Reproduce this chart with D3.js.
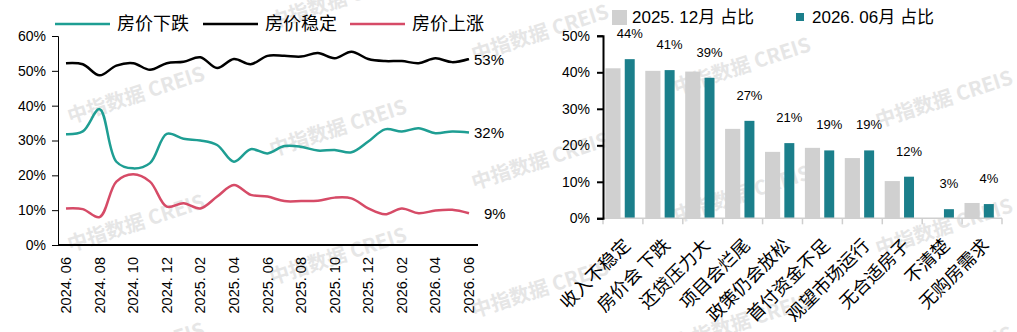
<!DOCTYPE html>
<html>
<head>
<meta charset="utf-8">
<script src="https://cdn.jsdelivr.net/npm/d3@7"></script>
<style>
  body { margin: 0; background: #fff; }
  text { font-family: "Liberation Sans", Arial, "Noto Sans CJK SC", sans-serif; }
</style>
</head>
<body>
<div id="chart"></div>
<script>
// ---- data: left chart (monthly share of expectations) ----
const months = ["2024. 06","2024. 07","2024. 08","2024. 09","2024. 10","2024. 11","2024. 12",
  "2025. 01","2025. 02","2025. 03","2025. 04","2025. 05","2025. 06","2025. 07","2025. 08",
  "2025. 09","2025. 10","2025. 11","2025. 12","2026. 01","2026. 02","2026. 03","2026. 04",
  "2026. 05","2026. 06"];
const monthTicks = ["2024. 06","2024. 08","2024. 10","2024. 12","2025. 02","2025. 04","2025. 06",
  "2025. 08","2025. 10","2025. 12","2026. 02","2026. 04","2026. 06"];
const fallValues = [31.8,32.6,39.0,23.9,22.0,23.5,31.9,30.5,30.0,28.7,23.9,27.5,26.3,28.4,28.2,
  27.1,27.3,26.6,29.7,33.2,32.6,33.5,32.1,32.6,32.3];
const stableValues = [52.2,51.9,48.7,51.5,52.2,50.3,52.2,52.6,53.9,50.8,53.4,51.9,54.3,54.3,54.1,
  55.1,53.6,55.5,53.4,52.8,52.8,52.2,53.6,52.5,53.4];
const riseValues = [10.5,10.3,8.0,18.2,20.3,18.2,11.0,12.0,10.5,13.9,17.2,14.4,13.9,12.6,12.6,
  12.7,13.6,13.4,10.5,8.8,10.5,9.1,9.9,10.1,9.1];
const lineNames = ["房价下跌","房价稳定","房价上涨"];
const lineEndLabels = ["32%","53%","9%"];
const leftTicks = [0,10,20,30,40,50,60];

// ---- data: right chart (reasons) ----
const reasons = ["收入不稳定","房价会 下跌","还贷压力大","项目会烂尾","政策仍会放松","首付资金不足",
  "观望市场运行","无合适房子","不清楚","无购房需求"];
const dec2025 = [41.1,40.4,40.2,24.5,18.2,19.3,16.5,10.2,0,4.2];
const jun2026 = [43.6,40.6,38.5,26.7,20.6,18.6,18.6,11.4,2.5,3.9];
const jun2026Labels = ["44%","41%","39%","27%","21%","19%","19%","12%","3%","4%"];
const barNames = ["2025. 12月 占比","2026. 06月 占比"];
const rightTicks = [0,10,20,30,40,50];

const W = 1017, H = 332;
const svg = d3.select("#chart").append("svg")
  .attr("width", W).attr("height", H)
  .style("display", "block");
svg.append("rect").attr("width", W).attr("height", H).attr("fill", "#fff");

// watermark grid "中指数据 CREIS"
const wm = svg.append("g");
for (let k = 0; k < 5; k++) {
  for (let j = -1; j < 4; j++) {
    const cx = 136 + 202 * k, cy = -33 + 33 * k + 128 * j;
    if (cy < -30 || cy > 360) continue;
    wm.append("text")
      .attr("transform", `translate(${cx},${cy}) rotate(-18)`)
      .attr("text-anchor", "middle").attr("dy", "0.35em")
      .style("font-size", "20px").style("font-weight", "bold")
      .style("font-family", "'Noto Sans CJK SC', sans-serif")
      .attr("fill", "#e6e6e6")
      .text("中指数据 CREIS");
  }
}

// ================= left chart =================
const colFall = "#1e9e93", colStable = "#000000", colRise = "#d64b67";
const x = d3.scalePoint().domain(months).range([66, 469]);
const y = d3.scaleLinear().domain([0, 60]).range([245, 36]);

const gL = svg.append("g");
gL.append("g")
  .attr("transform", "translate(58,0)")
  .call(d3.axisLeft(y).tickValues(leftTicks).tickSize(6).tickFormat(d => d + "%"))
  .call(g => g.selectAll("text").style("font-size", "14px").attr("fill", "#000").attr("x", -12))
  .call(g => g.select(".domain").attr("stroke", "#000"));

gL.append("line")
  .attr("x1", 58).attr("x2", 478).attr("y1", y(0)).attr("y2", y(0))
  .attr("stroke", "#000").attr("stroke-width", 2);

gL.selectAll(".mlab")
  .data(monthTicks)
  .enter()
  .append("text")
  .attr("transform", d => `translate(${x(d)},257) rotate(-90)`)
  .attr("text-anchor", "end").attr("dy", "0.35em")
  .style("font-size", "14.5px")
  .text(d => d);

const line = d3.line()
  .x((d, i) => x(months[i]))
  .y(d => y(d))
  .curve(d3.curveCatmullRom.alpha(0.5));

const series = [fallValues, stableValues, riseValues];
const colors = [colFall, colStable, colRise];
series.forEach((s, i) => {
  gL.append("path").datum(s)
    .attr("d", line)
    .attr("fill", "none")
    .attr("stroke", colors[i])
    .attr("stroke-width", 2.5);
  gL.append("text")
    .attr("x", i === 2 ? 484 : 474)
    .attr("y", y(s[s.length - 1]))
    .attr("dy", "0.38em")
    .style("font-size", "15px")
    .text(lineEndLabels[i]);
});

// legend left
const legX = [55, 203, 350];
lineNames.forEach((n, i) => {
  gL.append("line")
    .attr("x1", legX[i]).attr("x2", legX[i] + 55)
    .attr("y1", 24).attr("y2", 24)
    .attr("stroke", colors[i]).attr("stroke-width", 2.5);
  gL.append("text")
    .attr("x", legX[i] + 62).attr("y", 24).attr("dy", "0.36em")
    .style("font-size", "18px")
    .style("font-family", "'Noto Sans CJK SC', sans-serif")
    .text(n);
});

// ================= right chart =================
const colGray = "#d0d0d0", colTeal = "#1b7f8b";
const xb = d3.scaleBand().domain(reasons).range([603, 1002]);
const yb = d3.scaleLinear().domain([0, 50]).range([218.3, 35.8]);
const bw = xb.bandwidth();

const gR = svg.append("g");

gR.selectAll(".gbar")
  .data(dec2025)
  .enter()
  .append("rect")
  .attr("x", (d, i) => xb(reasons[i]) + bw * 0.06)
  .attr("width", bw * 0.38)
  .attr("y", d => yb(d))
  .attr("height", d => yb(0) - yb(d))
  .attr("fill", colGray);

gR.selectAll(".tbar")
  .data(jun2026)
  .enter()
  .append("rect")
  .attr("x", (d, i) => xb(reasons[i]) + bw * 0.545)
  .attr("width", bw * 0.25)
  .attr("y", d => yb(d))
  .attr("height", d => yb(0) - yb(d))
  .attr("fill", colTeal);

gR.selectAll(".blab")
  .data(jun2026)
  .enter()
  .append("text")
  .attr("x", (d, i) => xb(reasons[i]) + bw * 0.67)
  .attr("y", d => yb(d) - 21)
  .attr("text-anchor", "middle")
  .style("font-size", "13px")
  .text((d, i) => jun2026Labels[i]);

// x axis (light gray with ticks at band edges)
gR.append("line")
  .attr("x1", 603).attr("x2", 1002).attr("y1", yb(0)).attr("y2", yb(0))
  .attr("stroke", "#cfcfcf").attr("stroke-width", 1.5);
gR.selectAll(".btick")
  .data(reasons.concat(["_end"]))
  .enter()
  .append("line")
  .attr("x1", (d, i) => 603 + i * bw).attr("x2", (d, i) => 603 + i * bw)
  .attr("y1", yb(0)).attr("y2", yb(0) + 6)
  .attr("stroke", "#cfcfcf").attr("stroke-width", 1.5);

gR.append("g")
  .attr("transform", "translate(603,0)")
  .call(d3.axisLeft(yb).tickValues(rightTicks).tickSize(6).tickFormat(d => d + "%"))
  .call(g => g.selectAll("text").style("font-size", "14px").attr("fill", "#000").attr("x", -13))
  .call(g => g.selectAll("line").attr("stroke", "#000").attr("stroke-width", 2))
  .call(g => g.select(".domain").attr("stroke", "#000").attr("stroke-width", 2));

gR.selectAll(".rlab")
  .data(reasons)
  .enter()
  .append("text")
  .attr("transform", d => `translate(${xb(d) + bw / 2 + 4},242) rotate(-45)`)
  .attr("text-anchor", "end").attr("dy", "0.35em")
  .style("font-size", "18px")
  .style("font-family", "'Noto Sans CJK SC', sans-serif")
  .text(d => d);

// legend right
gR.append("rect").attr("x", 612).attr("y", 10).attr("width", 15).attr("height", 15).attr("fill", colGray);
gR.append("text").attr("x", 632).attr("y", 17).attr("dy", "0.36em")
  .style("font-size", "17px").text(barNames[0]);
gR.append("rect").attr("x", 796).attr("y", 13).attr("width", 8).attr("height", 8).attr("fill", colTeal);
gR.append("text").attr("x", 812).attr("y", 17).attr("dy", "0.36em")
  .style("font-size", "17px").text(barNames[1]);
</script>
</body>
</html>
